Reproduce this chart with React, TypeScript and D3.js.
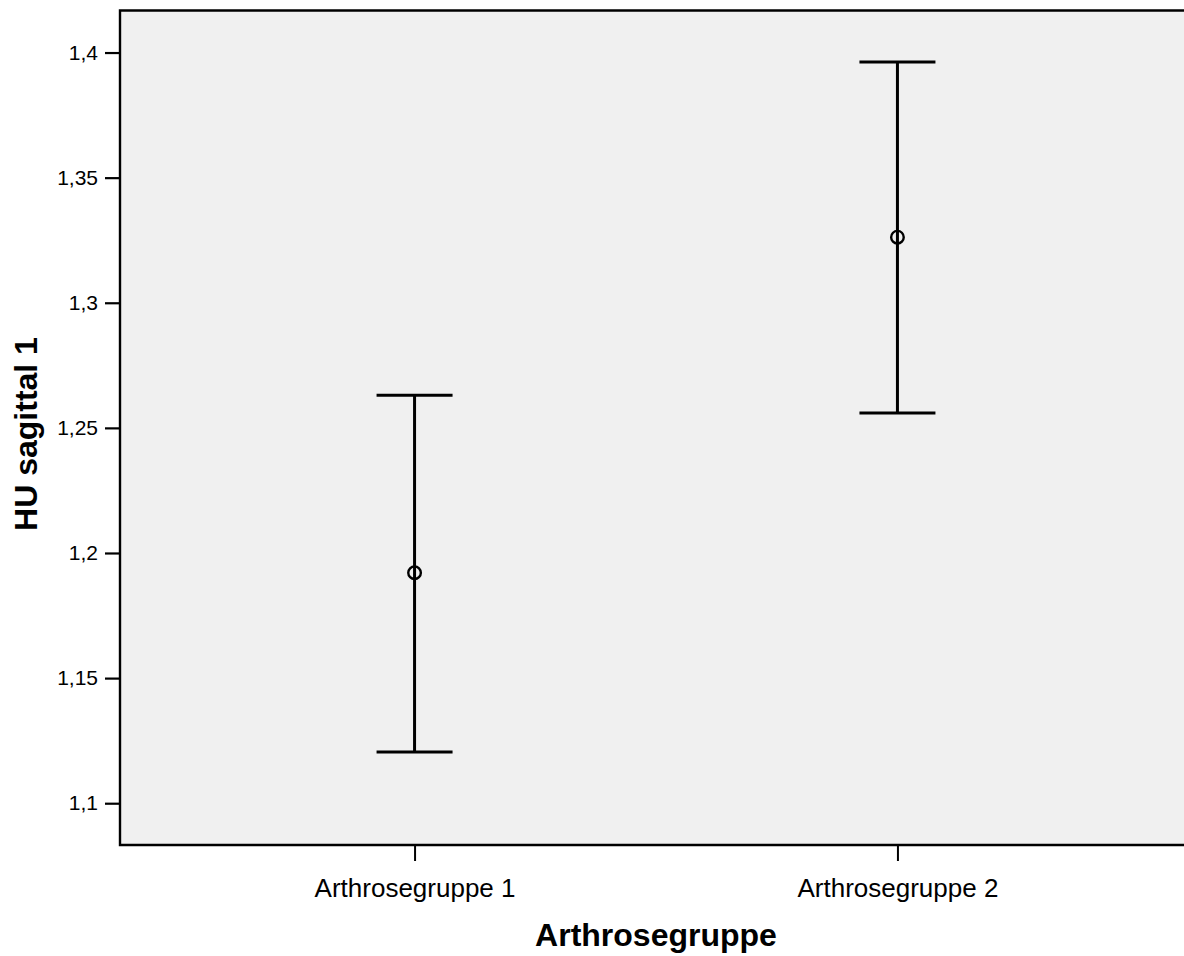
import React, { useEffect, useRef } from 'react';
import * as d3 from 'd3';

// groups and their mean with 95% CI bounds
const groups = ['Arthrosegruppe 1', 'Arthrosegruppe 2'];
const means = [1.1921, 1.3262];
const lower = [1.1205, 1.2559];
const upper = [1.2630, 1.3962];
const yTicks = [1.1, 1.15, 1.2, 1.25, 1.3, 1.35, 1.4];

const width = 1184;
const height = 956;
const font = '"Liberation Sans", Arial, sans-serif';

const left = 120;
const top = 10.5;
const bottom = 845;
const right = 1192;

const App = () => {
  const yAxisRef = useRef<SVGGElement>(null);
  const xAxisRef = useRef<SVGGElement>(null);

  const x = d3.scalePoint<string>().domain(groups).range([left, right]).padding(0.61);
  const y = d3.scaleLinear().domain([1.0833, 1.4168]).range([bottom, top]);

  useEffect(() => {
    const yAxis = d3
      .axisLeft(y)
      .tickValues(yTicks)
      .tickSize(14)
      .tickPadding(7)
      .tickFormat((d) => String(d).replace('.', ','));
    const gy = d3.select(yAxisRef.current).call(yAxis);
    gy.select('.domain').remove();
    gy.selectAll('.tick line').attr('stroke', '#000').attr('stroke-width', 2.2);
    gy.selectAll('.tick text')
      .attr('fill', '#000')
      .attr('font-size', 21)
      .attr('font-family', font);

    const xAxis = d3.axisBottom(x).tickSize(15).tickPadding(18);
    const gx = d3.select(xAxisRef.current).call(xAxis);
    gx.select('.domain').remove();
    gx.selectAll('.tick line').attr('stroke', '#000').attr('stroke-width', 2);
    gx.selectAll('.tick text')
      .attr('fill', '#000')
      .attr('font-size', 26)
      .attr('font-family', font);
  }, []);

  const capHalf = 38;

  return (
    <div style={{ position: 'absolute', left: 0, top: 0 }}>
      <svg width={width} height={height} style={{ display: 'block' }}>
        <rect x={0} y={0} width={width} height={height} fill="#fff" />
        {/* plot background */}
        <rect x={left} y={top} width={right - left + 20} height={bottom - top} fill="#f0f0f0" />

        {groups.map((g, i) => {
          const cx = x(g)!;
          return (
            <g key={g} stroke="#000" fill="none">
              <line x1={cx} x2={cx} y1={y(upper[i])} y2={y(lower[i])} strokeWidth={3} />
              <line x1={cx - capHalf} x2={cx + capHalf} y1={y(upper[i])} y2={y(upper[i])} strokeWidth={3} />
              <line x1={cx - capHalf} x2={cx + capHalf} y1={y(lower[i])} y2={y(lower[i])} strokeWidth={3} />
              <circle cx={cx} cy={y(means[i])} r={6.3} strokeWidth={2.4} />
            </g>
          );
        })}

        {/* frame: left, top, bottom */}
        <path
          d={`M${right + 20},${top} H${left} V${bottom} H${right + 20}`}
          fill="none"
          stroke="#000"
          strokeWidth={2.4}
        />

        <g ref={yAxisRef} transform={`translate(${left - 1},0)`} />
        <g ref={xAxisRef} transform={`translate(0,${bottom + 1})`} />

        <text
          x={656}
          y={946}
          textAnchor="middle"
          fontFamily={font}
          fontWeight="bold"
          fontSize={32}
        >
          Arthrosegruppe
        </text>
        <text
          transform={`translate(37,434) rotate(-90)`}
          textAnchor="middle"
          fontFamily={font}
          fontWeight="bold"
          fontSize={32}
        >
          HU sagittal 1
        </text>
      </svg>
    </div>
  );
};

export default App;
